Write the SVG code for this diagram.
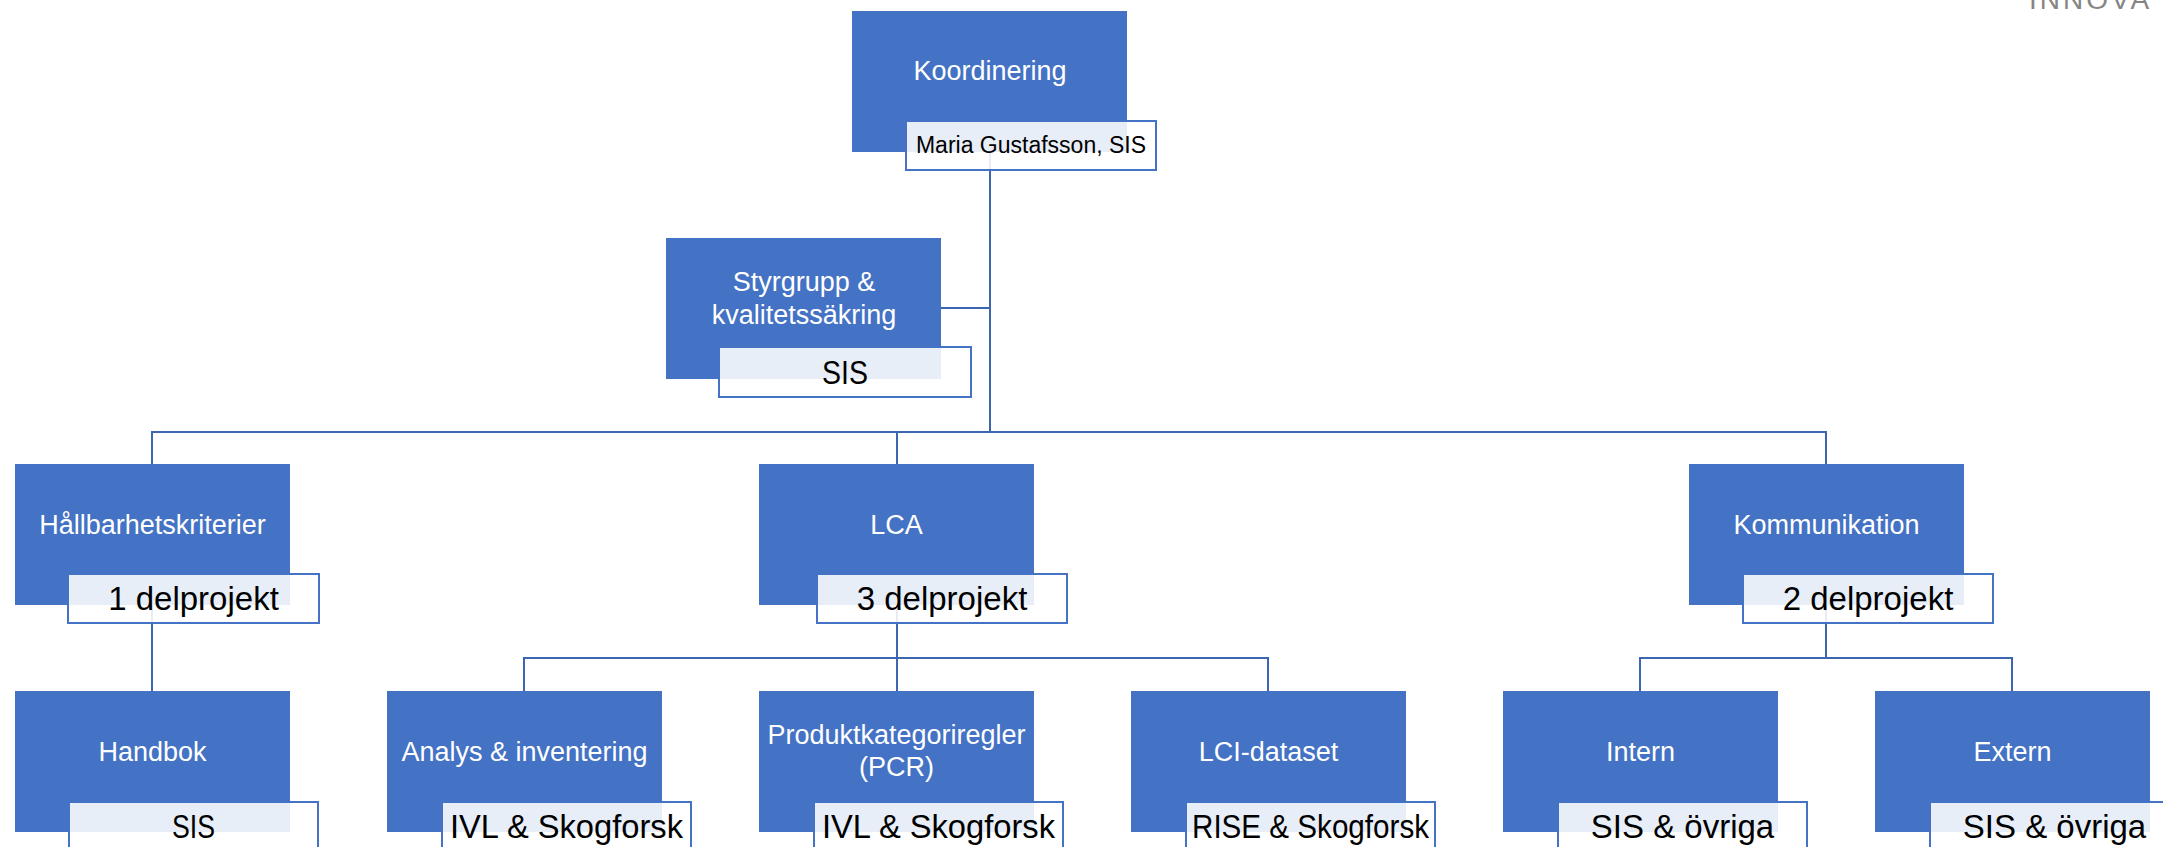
<svg xmlns="http://www.w3.org/2000/svg" width="2163" height="847" viewBox="0 0 2163 847">
<style>
.box{fill:#4472C4;}
.tb{fill:#FFFFFF;fill-opacity:0.88;stroke:#4472C4;stroke-width:2;}
.wt{fill:#FFFFFF;font-family:"Liberation Sans",Arial,sans-serif;font-size:27px;text-anchor:middle;}
.bt{fill:#000000;font-family:"Liberation Sans",Arial,sans-serif;font-size:33px;text-anchor:middle;}
.st{fill:#000000;font-family:"Liberation Sans",Arial,sans-serif;font-size:23px;text-anchor:middle;}
.conn{fill:none;stroke:#3D66B0;stroke-width:2;}
</style>
<rect width="2163" height="847" fill="#FFFFFF"/>
<text x="2029" y="9" font-family="'Liberation Sans',Arial,sans-serif" font-size="28" letter-spacing="3" fill="#858585">INNOVA</text>
<g id="connectors">
<path class="conn" d="M990,152 V432"/>
<path class="conn" d="M941,308 H990"/>
<path class="conn" d="M152,464 V432 H1826 V464"/>
<path class="conn" d="M897,432 V464"/>
<path class="conn" d="M152,605 V691"/>
<path class="conn" d="M897,605 V658"/>
<path class="conn" d="M524,691 V658 H1268 V691"/>
<path class="conn" d="M897,658 V691"/>
<path class="conn" d="M1826,605 V658"/>
<path class="conn" d="M1640,691 V658 H2012 V691"/>
</g>
<g id="koordinering">
<rect class="box" x="852" y="11" width="275" height="141"/>
<text class="wt" x="990" y="80">Koordinering</text>
<rect class="tb" x="906" y="121" width="250" height="49"/>
<text class="st" x="1031" y="153">Maria Gustafsson, SIS</text>
</g>
<g id="styrgrupp">
<rect class="box" x="666" y="238" width="275" height="141"/>
<text class="wt" x="804" y="291">Styrgrupp &amp;</text>
<text class="wt" x="804" y="324">kvalitetssäkring</text>
<rect class="tb" x="719" y="347" width="252" height="50"/>
<text class="bt" x="845" y="384" textLength="46" lengthAdjust="spacingAndGlyphs">SIS</text>
</g>
<g id="hallbarhet">
<rect class="box" x="15" y="464" width="275" height="141"/>
<text class="wt" x="152.5" y="534">Hållbarhetskriterier</text>
<rect class="tb" x="68" y="574" width="251" height="49"/>
<text class="bt" x="193.5" y="610">1 delprojekt</text>
</g>
<g id="lca">
<rect class="box" x="759" y="464" width="275" height="141"/>
<text class="wt" x="896.5" y="534">LCA</text>
<rect class="tb" x="817" y="574" width="250" height="49"/>
<text class="bt" x="942" y="610">3 delprojekt</text>
</g>
<g id="kommunikation">
<rect class="box" x="1689" y="464" width="275" height="141"/>
<text class="wt" x="1826.5" y="534">Kommunikation</text>
<rect class="tb" x="1743" y="574" width="250" height="49"/>
<text class="bt" x="1868" y="610">2 delprojekt</text>
</g>
<g id="handbok">
<rect class="box" x="15" y="691" width="275" height="141"/>
<text class="wt" x="152.5" y="761">Handbok</text>
<rect class="tb" x="69" y="802" width="249" height="49"/>
<text class="bt" x="193.5" y="838" textLength="43" lengthAdjust="spacingAndGlyphs">SIS</text>
</g>
<g id="analys">
<rect class="box" x="387" y="691" width="275" height="141"/>
<text class="wt" x="524.5" y="761">Analys &amp; inventering</text>
<rect class="tb" x="442" y="802" width="249" height="49"/>
<text class="bt" x="566.5" y="838" textLength="233" lengthAdjust="spacingAndGlyphs">IVL &amp; Skogforsk</text>
</g>
<g id="pcr">
<rect class="box" x="759" y="691" width="275" height="141"/>
<text class="wt" x="896.5" y="744">Produktkategoriregler</text>
<text class="wt" x="896.5" y="776">(PCR)</text>
<rect class="tb" x="814" y="802" width="249" height="49"/>
<text class="bt" x="938.5" y="838" textLength="233" lengthAdjust="spacingAndGlyphs">IVL &amp; Skogforsk</text>
</g>
<g id="lci">
<rect class="box" x="1131" y="691" width="275" height="141"/>
<text class="wt" x="1268.5" y="761">LCI-dataset</text>
<rect class="tb" x="1186" y="802" width="249" height="49"/>
<text class="bt" x="1310.5" y="838" textLength="237" lengthAdjust="spacingAndGlyphs">RISE &amp; Skogforsk</text>
</g>
<g id="intern">
<rect class="box" x="1503" y="691" width="275" height="141"/>
<text class="wt" x="1640.5" y="761">Intern</text>
<rect class="tb" x="1558" y="802" width="249" height="49"/>
<text class="bt" x="1682.5" y="838">SIS &amp; övriga</text>
</g>
<g id="extern">
<rect class="box" x="1875" y="691" width="275" height="141"/>
<text class="wt" x="2012.5" y="761">Extern</text>
<rect class="tb" x="1930" y="802" width="249" height="49"/>
<text class="bt" x="2054.5" y="838">SIS &amp; övriga</text>
</g>
</svg>
